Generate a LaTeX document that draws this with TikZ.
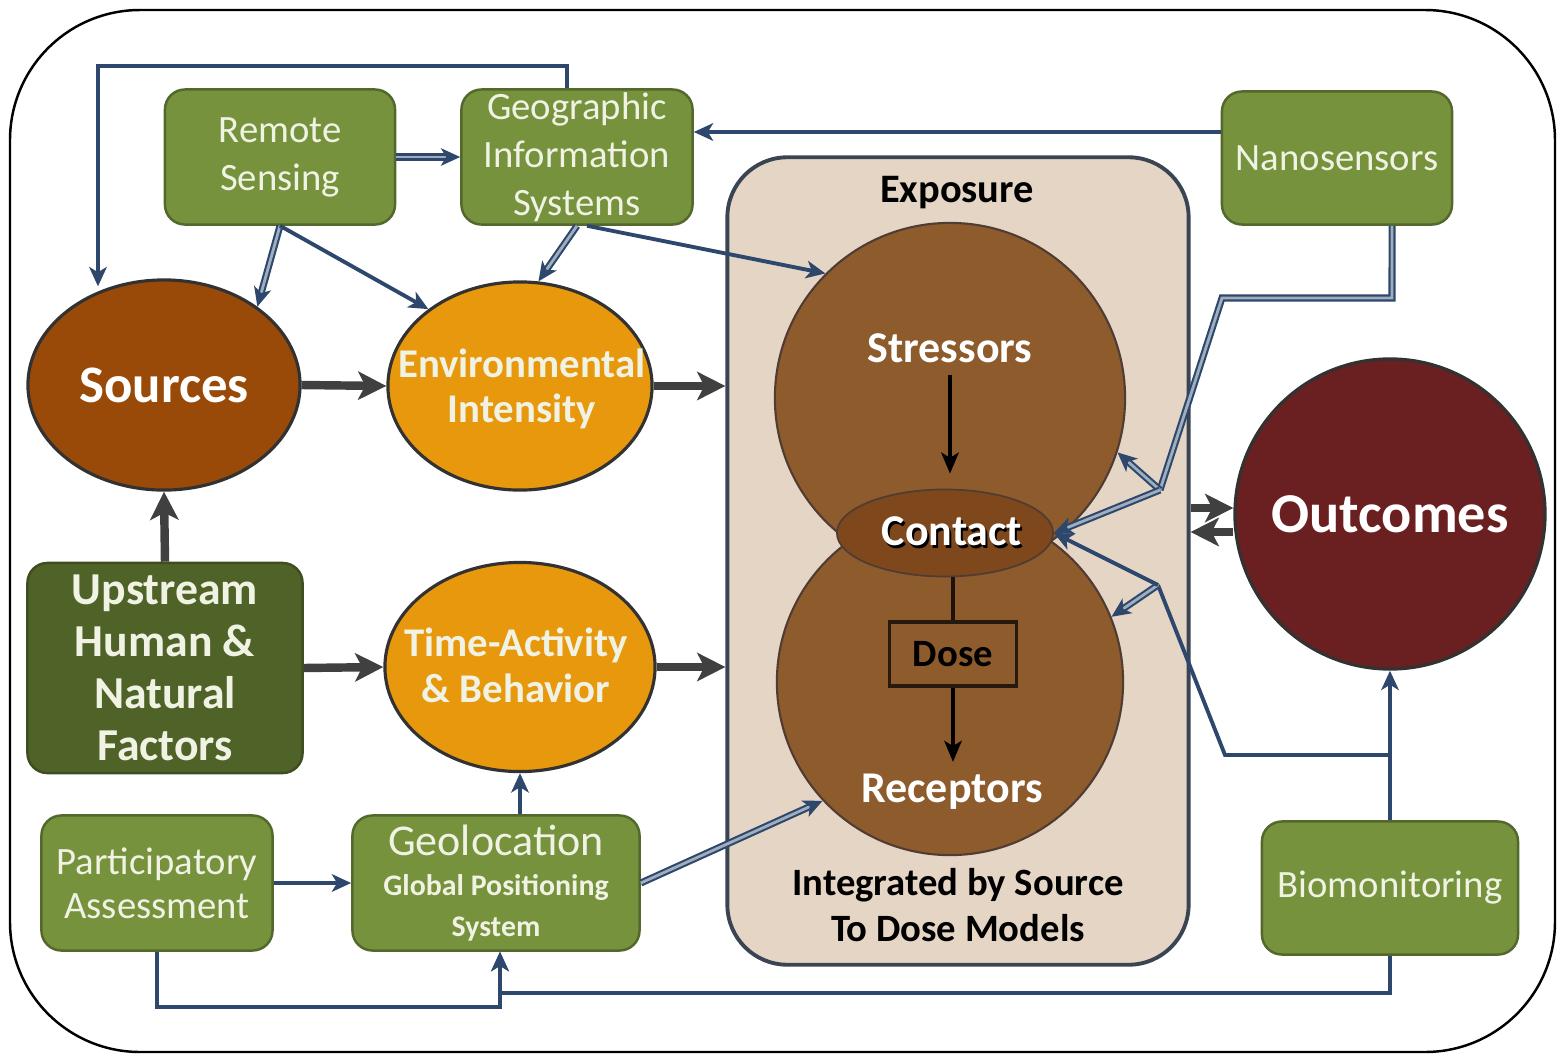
\documentclass[tikz,border=0pt]{standalone}
\usepackage{fontspec}
\setmainfont{Carlito}
\usetikzlibrary{shapes.geometric,arrows.meta,calc}
\definecolor{boxgreen}{RGB}{118,146,60}
\definecolor{boxborder}{RGB}{82,104,44}
\definecolor{boxtext}{RGB}{240,242,228}
\definecolor{darkgreen}{RGB}{79,98,40}
\definecolor{srccol}{RGB}{154,74,8}
\definecolor{envcol}{RGB}{232,152,12}
\definecolor{outcol}{RGB}{106,32,32}
\definecolor{circcol}{RGB}{142,91,45}
\definecolor{contactcol}{RGB}{126,72,28}
\definecolor{circborder}{RGB}{80,60,50}
\definecolor{expofill}{RGB}{229,213,197}
\definecolor{expoborder}{RGB}{58,68,82}
\definecolor{navy}{RGB}{45,72,108}
\definecolor{arrgray}{RGB}{64,64,64}
\definecolor{darkline}{RGB}{50,50,50}
\begin{document}
\begin{tikzpicture}[x=0.01cm,y=-0.01cm,
  gbox/.style={draw=boxborder, line width=0.7pt, fill=boxgreen, rounded corners=0.2cm,
    text=boxtext, align=center, inner sep=0pt, font=\fontsize{11}{13.6}\selectfont},
  oval/.style={ellipse, draw=darkline, line width=0.9pt, inner sep=0pt},
  ovaltext/.style={align=center, text=boxtext, inner sep=0pt, font=\bfseries\fontsize{11.6}{13}\selectfont},
  conn/.style={draw=navy, line width=1.1pt, -{Stealth[length=5.5pt,width=5pt,inset=1.5pt]}},
  navyline/.style={draw=navy, line width=1.1pt},
  dblline/.style={draw=navy, line width=0.6pt, double=navy!45!white, double distance=0.8pt},
  conndbl/.style={dblline, -{Stealth[length=5.5pt,width=5pt,inset=1.5pt]}},
  thickarr/.style={draw=arrgray, line width=2.4pt, -{Stealth[length=8pt,width=8pt,inset=2pt]}},
  blackarr/.style={draw=black, line width=0.9pt, -{Stealth[length=6pt,width=5pt,inset=1.5pt]}},
  lbl/.style={text=white, font=\bfseries\fontsize{12.5}{15}\selectfont}
]
\useasboundingbox (0,0) rectangle (1562,1060);
\draw[line width=0.7pt, rounded corners=1.3cm] (10,10) rectangle (1555,1052);

% Exposure container
\node[draw=expoborder, line width=1.1pt, fill=expofill, rounded corners=0.6cm,
  minimum width=4.61cm, minimum height=8.07cm, inner sep=0pt] (expo) at (958,561) {};
\node[font=\bfseries\fontsize{11.5}{13}\selectfont] (expt) at (957,193) {Exposure};
\node[align=center, font=\bfseries\fontsize{11}{13}\selectfont] (integ) at (958,905) {Integrated by Source\\To Dose Models};

% circles
\node[circle, draw=circborder, line width=0.6pt, fill=circcol, minimum size=3.50cm, inner sep=0pt] (str) at (950,398) {};
\node[circle, draw=circborder, line width=0.6pt, fill=circcol, minimum size=3.46cm, inner sep=0pt] (rec) at (950,682) {};
\node[ellipse, draw=circborder, line width=0.5pt, fill=contactcol, minimum width=2.16cm, minimum height=0.87cm, inner sep=0pt] (con) at (945,533) {};
\node[lbl] (strl) at (950,348) {Stressors};
\node[lbl] (recl) at (952,792) {Receptors};
\node[lbl, text=black] (conts) at (954,534) {Contact};
\node[lbl] (contl) at (952,531) {Contact};
\node[draw=black!80!brown, line width=0.9pt, minimum width=1.27cm, minimum height=0.64cm, inner sep=0pt,
  font=\bfseries\fontsize{11}{13}\selectfont] (dose) at (953,654) {Dose};

% green boxes
\node[gbox, minimum width=2.30cm, minimum height=1.35cm] (rs) at (280,157) {Remote\\Sensing};
\node[gbox, minimum width=2.31cm, minimum height=1.35cm] (gis) at (577,157) {Geographic\\Information\\Systems};
\node[gbox, minimum width=2.30cm, minimum height=1.33cm] (nano) at (1337,158) {Nanosensors};
\node[gbox, minimum width=2.31cm, minimum height=1.35cm, font=\fontsize{11}{12.6}\selectfont] (part) at (157,883) {Participatory\\Assessment};
\node[gbox, minimum width=2.87cm, minimum height=1.35cm, font=\bfseries\fontsize{8.5}{11.5}\selectfont] (geo) at (496,883)
  {{\mdseries\fontsize{12.5}{11.5}\selectfont Geolocation}\\Global Positioning\\System};
\node[gbox, minimum width=2.56cm, minimum height=1.33cm] (bio) at (1390,888) {Biomonitoring};
\node[gbox, fill=darkgreen, draw=darkgreen!80!black, minimum width=2.75cm, minimum height=2.10cm,
  font=\bfseries\fontsize{13}{14.8}\selectfont] (up) at (165,668) {Upstream\\Human \&\\Natural\\Factors};

% ovals
\node[oval, fill=srccol, minimum width=2.72cm, minimum height=2.10cm, text=white,
  font=\bfseries\fontsize{15}{18}\selectfont] (src) at (164,385) {Sources};
\node[oval, fill=envcol, minimum width=2.64cm, minimum height=2.08cm] (env) at (520,386) {};
\node[ovaltext] (envl) at (522,389) {Environmental\\Intensity};
\node[oval, fill=envcol, minimum width=2.70cm, minimum height=2.09cm] (tab) at (520,667) {};
\node[ovaltext] (tabl) at (516,665) {Time-Activity\\\& Behavior};
\node[circle, draw=darkline, line width=0.9pt, fill=outcol, minimum size=3.10cm, inner sep=0pt, text=white,
  font=\bfseries\fontsize{16}{19}\selectfont] (out) at (1390,514) {Outcomes};

% thick arrows
\draw[thickarr] (src.east) -- (env.west);
\draw[thickarr] (env.east) -- (env.east -| expo.west);
\draw[thickarr] (up.north) -- (src.south);
\draw[thickarr] (up.east) -- (tab.west);
\draw[thickarr] (tab.east) -- (tab.east -| expo.west);
\coordinate (o1) at ($(out.west)+(0,-6)$);
\coordinate (o2) at ($(out.west)+(0,18)$);
\draw[thickarr] (o1 -| expo.east) -- (o1);
\draw[thickarr] (o2) -- (o2 -| expo.east);

% inner arrows
\draw[blackarr] (strl.south) -- ([yshift=0.15cm]strl.south |- con.north);
\draw[draw=black!85!brown, line width=0.9pt] (dose.north |- con.south) -- (dose.north);
\draw[blackarr] (dose.south) -- (dose.south |- recl.north);

% navy connectors
\draw[conn] ([xshift=-0.1cm]gis.north) -- ++(0,-22) -| ($(src.north)+(-66,8)$);
\draw[conndbl] (rs.east) -- (gis.west);
\draw[conndbl] (rs.south) -- (src.40);
\draw[conn] (rs.south) -- (env.140);
\draw[conndbl] (gis.south) -- (env.80);
\draw[conn] ([xshift=0.1cm]gis.south) -- (str.135);
\draw[conn] ([yshift=0.26cm]nano.west) coordinate (nw) -- (nw -| gis.east);

\coordinate (n1) at (1392,298);
\coordinate (n2) at (1222,298);
\coordinate (n3) at (1160,490);
\draw[dblline] ([xshift=0.55cm]nano.south) -- (n1) -- (n2) -- (n3);
\draw[conndbl] (n3) -- (str.-18);
\draw[conndbl] (n3) -- (con.east);

\draw[conn] (bio.north) -- (out.south);
\coordinate (b1) at (1390,755);
\coordinate (b2) at (1225,755);
\coordinate (b3) at (1158,585);
\draw[navyline] (b1) -- (b2) -- (b3);
\draw[conndbl] (b3) -- (rec.22);
\draw[conn] (b3) -- (con.east);

\draw[conn] (bio.south) |- ($(geo.south)+(4,41)$) -- ($(geo.south)+(4,0)$);
\draw[conn] (part.south) |- ($(geo.south)+(4,55)$) -- ($(geo.south)+(4,0)$);
\draw[conn] (part.east) -- (geo.west);
\draw[conn] (geo.north -| tab.south) -- (tab.south);
\draw[conndbl] (geo.east) -- (rec.223);
\end{tikzpicture}
\end{document}
